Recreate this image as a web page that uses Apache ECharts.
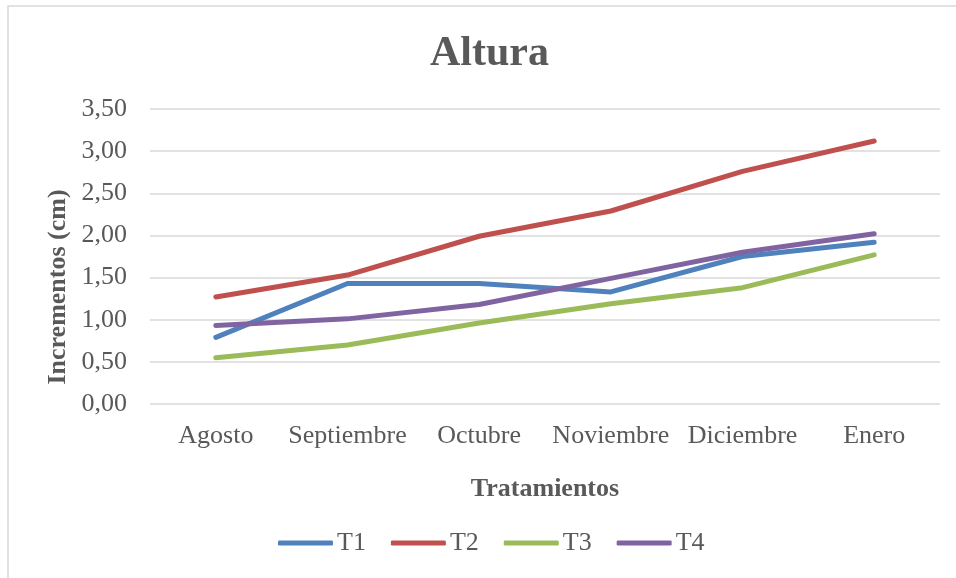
<!DOCTYPE html>
<html>
<head>
<meta charset="utf-8">
<script src="https://cdn.jsdelivr.net/npm/echarts@6/dist/echarts.min.js"></script>
<style>
html,body{margin:0;padding:0;background:#fff;}
#chart{width:956px;height:578px;}
</style>
</head>
<body>
<div id="chart"></div>
<script>
const categories = ['Agosto', 'Septiembre', 'Octubre', 'Noviembre', 'Diciembre', 'Enero'];
const T1 = [0.79, 1.43, 1.43, 1.33, 1.75, 1.92];
const T2 = [1.27, 1.53, 1.99, 2.29, 2.76, 3.12];
const T3 = [0.55, 0.70, 0.96, 1.19, 1.38, 1.77];
const T4 = [0.93, 1.01, 1.18, 1.49, 1.80, 2.02];
const seriesNames = ['T1', 'T2', 'T3', 'T4'];
const seriesData = [T1, T2, T3, T4];
const colors = ['#4F81BD', '#C0504D', '#9BBB59', '#8064A2'];

const FONT = '"Liberation Serif", "Times New Roman", serif';
const TXT = '#595959';

const chart = echarts.init(document.getElementById('chart'), null, {renderer: 'canvas'});
chart.setOption({
  animation: false,
  backgroundColor: '#ffffff',
  color: colors,
  title: {
    text: 'Altura',
    left: 430,
    top: 33,
    padding: 0,
    textStyle: {fontFamily: FONT, fontSize: 42, fontWeight: 'bold', color: TXT, lineHeight: 42}
  },
  legend: {
    data: seriesNames,
    left: 278,
    top: 530,
    padding: 0,
    icon: 'roundRect',
    itemWidth: 55,
    itemHeight: 5,
    itemGap: 25,
    textStyle: {fontFamily: FONT, fontSize: 26, color: TXT, padding: [0, 0, 0, -1]}
  },
  grid: {left: 150, right: 16, top: 109, bottom: 174, containLabel: false},
  graphic: [
    {
      type: 'polyline', silent: true,
      shape: {points: [[8, 600], [8, 6], [960, 6]]},
      style: {stroke: '#d9d9d9', lineWidth: 1.5, fill: null}
    },
    {
      type: 'text',
      x: 58, y: 287,
      rotation: Math.PI / 2,
      style: {
        text: 'Incrementos (cm)',
        fontFamily: FONT, fontSize: 26, fontWeight: 'bold',
        fill: TXT, align: 'center', verticalAlign: 'middle'
      }
    }
  ],
  xAxis: {
    type: 'category',
    data: categories,
    boundaryGap: true,
    name: 'Tratamientos',
    nameLocation: 'middle',
    nameGap: 72,
    nameTextStyle: {fontFamily: FONT, fontSize: 26, fontWeight: 'bold', color: TXT},
    axisLine: {show: false},
    axisTick: {show: false},
    axisLabel: {fontFamily: FONT, fontSize: 26, color: TXT, margin: 19, interval: 0}
  },
  yAxis: {
    type: 'value',
    min: 0,
    max: 3.5,
    interval: 0.5,
    axisLine: {show: false},
    axisTick: {show: false},
    splitLine: {lineStyle: {color: '#d9d9d9', width: 1.5}},
    axisLabel: {
      fontFamily: FONT, fontSize: 26, color: TXT, margin: 23,
      formatter: v => v.toFixed(2).replace('.', ',')
    }
  },
  series: seriesNames.map((n, i) => ({
    name: n,
    type: 'line',
    data: seriesData[i],
    symbol: 'none',
    smooth: false,
    lineStyle: {width: 5, color: colors[i], cap: 'round', join: 'round'},
    itemStyle: {color: colors[i]}
  }))
});
</script>
</body>
</html>
